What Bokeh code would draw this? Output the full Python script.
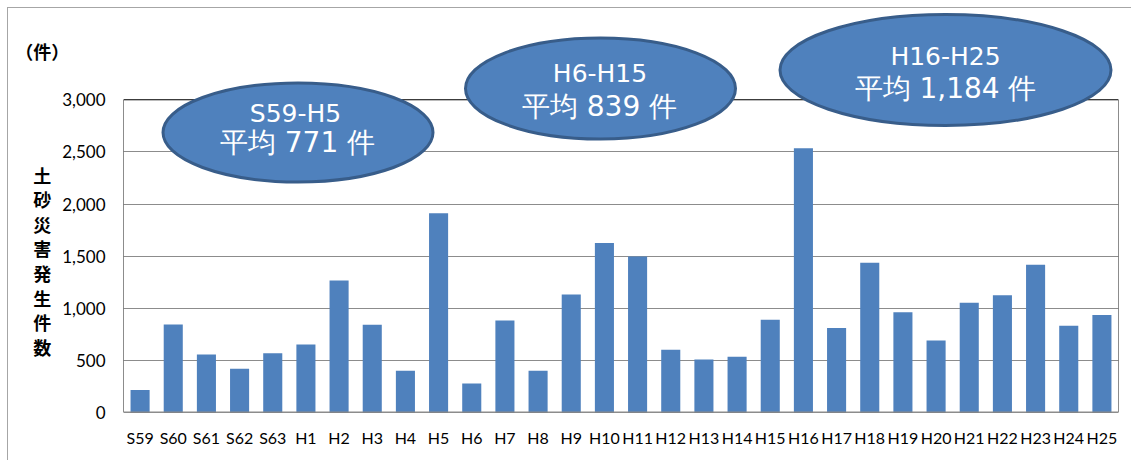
from bokeh.plotting import figure
from bokeh.models import (Range1d, FixedTicker, NumeralTickFormatter,
                          ColumnDataSource)
from bokeh.core.properties import value
from bokeh.embed import file_html
from bokeh.resources import INLINE

# ---- data ----
years = ["S59", "S60", "S61", "S62", "S63", "H1", "H2", "H3", "H4", "H5",
         "H6", "H7", "H8", "H9", "H10", "H11", "H12", "H13", "H14", "H15",
         "H16", "H17", "H18", "H19", "H20", "H21", "H22", "H23", "H24", "H25"]
counts = [217, 844, 556, 419, 569, 652, 1266, 841, 400, 1911,
          278, 882, 400, 1131, 1627, 1497, 603, 508, 536, 891,
          2535, 811, 1437, 961, 690, 1054, 1124, 1418, 833, 935]
y_ticks = [0, 500, 1000, 1500, 2000, 2500, 3000]
period_labels = ["S59-H5", "H6-H15", "H16-H25"]
period_avgs = ["平均 771 件", "平均 839 件", "平均 1,184 件"]
y_title = "土砂災害発生件数"
unit_label = "（件）"

# ---- layout (screen coords; figure starts at 8,8) ----
OX, OY = 8, 8
W, H = 1124, 453
FRAME_L, FRAME_R, FRAME_T, FRAME_B = 123, 1118, 10, 412
ML, MR = FRAME_L - OX, OX + W - FRAME_R
MT, MB = FRAME_T - OY, OY + H - FRAME_B
PX_3000 = 99.3
YTOP = 3000 * (FRAME_B - FRAME_T) / (FRAME_B - PX_3000)
N = len(years)
CAT_W = (FRAME_R - FRAME_L) / N


def sx2x(sx):
    return (sx - FRAME_L) / CAT_W - 0.5


def sy2y(sy):
    return (FRAME_B - sy) * YTOP / (FRAME_B - FRAME_T)


p = figure(width=W, height=H, x_range=Range1d(-0.5, N - 0.5),
           y_range=Range1d(0, YTOP), output_backend="svg",
           toolbar_location=None, min_border_left=ML, min_border_right=MR,
           min_border_top=MT, min_border_bottom=MB)
p.outline_line_color = None
p.background_fill_color = "white"
p.border_fill_color = "white"
p.styles = {"margin-left": "7px", "margin-top": "7px",
            "border-left": "1px solid #a6a6a6", "border-top": "1px solid #a6a6a6"}

tick_font = "Lato"

# y axis
p.yaxis.ticker = FixedTicker(ticks=y_ticks)
p.yaxis.formatter = NumeralTickFormatter(format="0,0")
p.yaxis.axis_line_color = None
p.yaxis.major_tick_line_color = None
p.yaxis.minor_tick_line_color = None
p.yaxis.major_tick_out = 0
p.yaxis.major_label_standoff = 18
p.yaxis.major_label_text_font = tick_font
p.yaxis.major_label_text_font_size = "17px"
p.yaxis.major_label_text_color = "black"
# unit mark on top line, then the stacked vertical title; blank lines position it
blank = "\u3000"
p.yaxis.axis_label = "\n".join([unit_label] + [blank] * 4
                               + [ch + blank for ch in y_title] + [blank])
p.yaxis.axis_label_orientation = "horizontal"
p.yaxis.axis_label_text_font = "Noto Sans CJK JP"
p.yaxis.axis_label_text_font_style = "bold"
p.yaxis.axis_label_text_font_size = "18px"
p.yaxis.axis_label_text_line_height = 0.9486
p.yaxis.axis_label_text_color = "black"
p.yaxis.axis_label_standoff = -10

# x axis
p.xaxis.ticker = FixedTicker(ticks=list(range(N)))
p.xaxis.major_label_overrides = {i: years[i] for i in range(N)}
p.xaxis.axis_line_color = None
p.xaxis.major_tick_line_color = None
p.xaxis.minor_tick_line_color = None
p.xaxis.major_tick_out = 0
p.xaxis.major_label_standoff = 15
p.xaxis.major_label_text_font = tick_font
p.xaxis.major_label_text_font_size = "16px"
p.xaxis.major_label_text_color = "black"

p.xgrid.grid_line_color = None
p.ygrid.ticker = FixedTicker(ticks=y_ticks)
p.ygrid.grid_line_color = "#8c8c8c"
p.ygrid.grid_line_width = 1

src = ColumnDataSource(dict(x=list(range(N)), top=counts))
p.vbar(x="x", top="top", width=0.575, source=src, fill_color="#4F81BD",
       line_color=None)

# plot-area border
p.quad(left=-0.5, right=N - 0.5, bottom=0, top=3000, fill_color=None,
       line_color="#1a1a1a", line_width=1)
p.segment(x0=-0.5, x1=N - 0.5, y0=0, y1=0, line_color="#8c8c8c", line_width=2)

# ellipses (screen-measured layout)
ell = [  # center sx, sy, outer w, outer h
    (297.5, 132, 273, 102),
    (600, 88, 273, 104),
    (945, 69.5, 334, 114),
]
lines = [  # line1 (sx, sy), line2 (sx, sy)
    ((295, 112.5), (297, 142)),
    ((599.5, 72.5), (599, 106)),
    ((945, 56), (945, 88)),
]
p.ellipse(x=[sx2x(e[0]) for e in ell], y=[sy2y(e[1]) for e in ell],
          width=[e[2] - 3 for e in ell], height=[e[3] - 3 for e in ell],
          width_units="screen", height_units="screen",
          fill_color="#4F81BD", line_color="#385D8A", line_width=3)

bfont = value("DejaVu Sans")
p.text(x=[sx2x(l[0][0]) for l in lines], y=[sy2y(l[0][1]) for l in lines],
       text=period_labels, text_font=bfont, text_font_size="25px",
       text_color="white", text_align="center", text_baseline="middle")
p.text(x=[sx2x(l[1][0]) for l in lines], y=[sy2y(l[1][1]) for l in lines],
       text=period_avgs, text_font=bfont, text_font_size="28px",
       text_color="white", text_align="center", text_baseline="middle")

open("out.html", "w").write(file_html(p, INLINE))
